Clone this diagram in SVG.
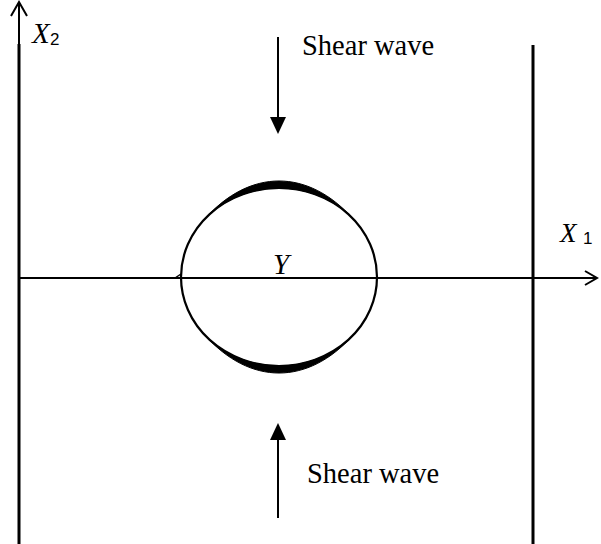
<svg xmlns="http://www.w3.org/2000/svg" width="601" height="544" viewBox="0 0 601 544">
<style>
.ln{stroke:#000;fill:none}
.band{fill:#000;stroke:#000;stroke-width:1}
.tm{font-family:"Liberation Serif","Times New Roman",serif;fill:#000}
.sf{font-family:"Liberation Sans",Arial,sans-serif;fill:#000}
</style>
<rect width="601" height="544" fill="#fff"/>
<g id="connectors">
<line class="ln" x1="19" y1="2" x2="19" y2="45" stroke-width="2"/>
<polyline class="ln" points="11,16 19,2 27,16" stroke-width="2"/>
<line class="ln" x1="19" y1="44" x2="19" y2="544" stroke-width="3"/>
<line class="ln" x1="533" y1="45" x2="533" y2="544" stroke-width="3"/>
<line class="ln" x1="19" y1="278" x2="597" y2="278" stroke-width="2"/>
<polyline class="ln" points="585,271 597,278 585,285" stroke-width="2"/>
<line class="ln" x1="278" y1="37" x2="278" y2="120" stroke-width="2"/>
<polygon points="270,117 286,117 278,134" fill="#000"/>
<line class="ln" x1="278" y1="518" x2="278" y2="436" stroke-width="2"/>
<polygon points="270,440 286,440 278,423" fill="#000"/>
</g>
<g id="inclusion">
<path class="band" d="M205,218.7 C250,168.4 308,168.4 353,218.7 A98,89 0 0,0 205,218.7 Z"/>
<path class="band" d="M205,335.3 C250,385.6 308,385.6 353,335.3 A98,89 0 0,1 205,335.3 Z"/>
<ellipse class="ln" cx="279" cy="277" rx="98" ry="89" stroke-width="2.2"/>
<line class="ln" x1="175" y1="278" x2="181" y2="274" stroke-width="1.5"/>
<text class="tm" x="273" y="274" font-size="29" font-style="italic">Y</text>
</g>
<g id="labels">
<text class="tm" x="32" y="43" font-size="29" font-style="italic">X</text>
<text class="sf" x="50" y="45" font-size="17">2</text>
<text class="tm" x="560" y="242" font-size="27" font-style="italic">X</text>
<text class="sf" x="583" y="244" font-size="17">1</text>
<text class="tm" x="302" y="55" font-size="28.5">Shear wave</text>
<text class="tm" x="307" y="483" font-size="28.5">Shear wave</text>
</g>
</svg>
